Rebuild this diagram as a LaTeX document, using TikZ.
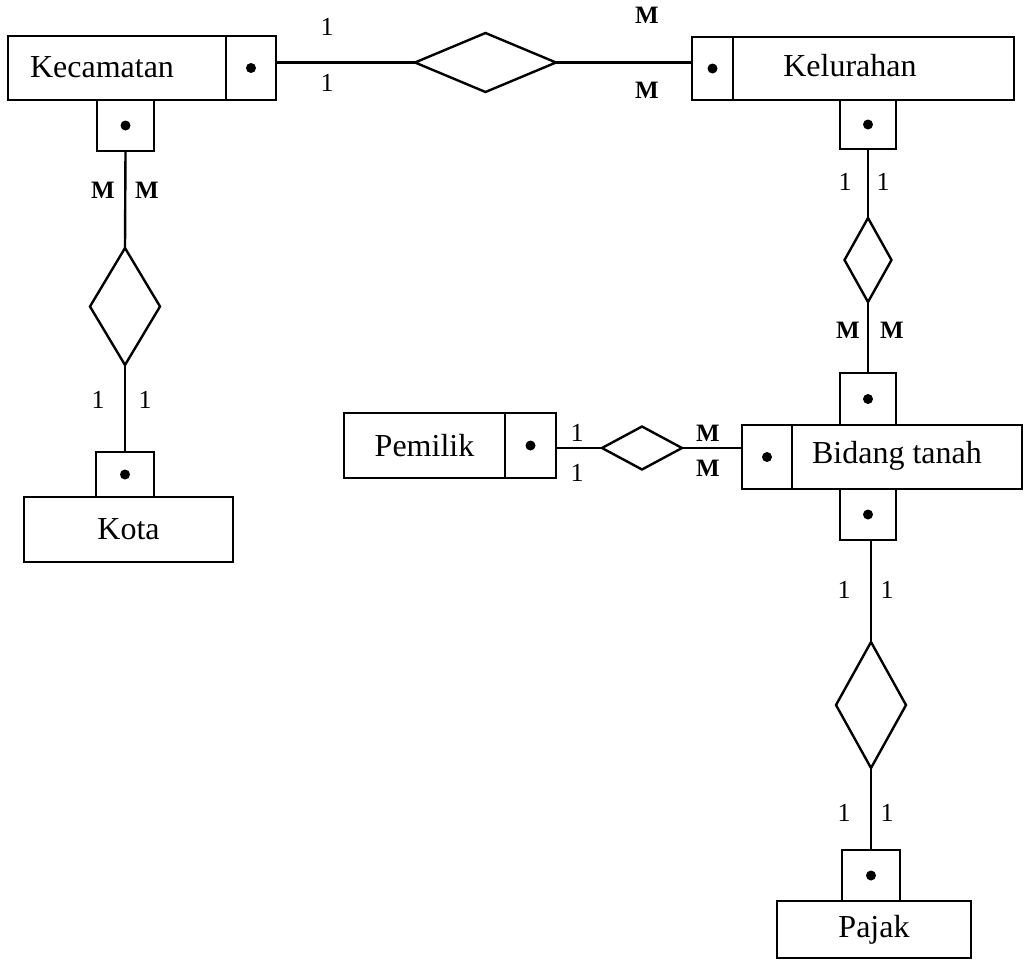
\documentclass[tikz,border=0pt]{standalone}
\usepackage{fontspec}
\setmainfont{Liberation Serif}
\usetikzlibrary{shapes.geometric}
\begin{document}
\begin{tikzpicture}[x=1pt,y=-1pt,
  every node/.style={inner sep=0pt,outer sep=0pt},
  ent/.style={draw,line width=2.4pt,rectangle,font=\fontsize{32}{38}\selectfont},
  keyb/.style={draw,line width=2.4pt,rectangle},
  rel/.style={draw,line width=2.4pt,diamond,inner sep=0pt},
  conn/.style={line width=2.4pt},
  card/.style={font=\fontsize{26}{30}\selectfont},
  cardm/.style={font=\fontsize{25}{30}\selectfont\bfseries},
  dotc/.style={fill=black}]
\useasboundingbox (0,0) rectangle (1025,961);
% Kecamatan
\node[ent,minimum width=218,minimum height=64] (kec) at (117,68) {};
\node[font=\fontsize{32}{38}\selectfont] (kect) at (102,67) {Kecamatan};
\node[keyb,minimum width=50,minimum height=64] (keckr) at (251,68) {};
\node[keyb,minimum width=57,minimum height=51] (keckb) at (125.5,125.5) {};
% Kelurahan
\node[keyb,minimum width=41,minimum height=63] (kelkl) at (712.5,68.5) {};
\node[ent,minimum width=281,minimum height=63] (kel) at (873.5,68.5) {};
\node[font=\fontsize{32}{38}\selectfont] (kelt) at (850,66) {Kelurahan};
\node[keyb,minimum width=56,minimum height=49] (kelkb) at (868,124.5) {};
% Bidang tanah
\node[keyb,minimum width=56,minimum height=52] (bidkt) at (868,399) {};
\node[keyb,minimum width=50,minimum height=64] (bidkl) at (767,457) {};
\node[ent,minimum width=230,minimum height=64] (bid) at (907,457) {};
\node[font=\fontsize{32}{38}\selectfont] (bidt) at (897,456) {Bidang tanah};
\node[keyb,minimum width=56,minimum height=51] (bidkb) at (868,514.5) {};
% Pajak
\node[keyb,minimum width=58,minimum height=51] (pajk) at (871,875.5) {};
\node[ent,minimum width=194,minimum height=57] (paj) at (874,929.5) {Pajak};
% Kota
\node[keyb,minimum width=58,minimum height=45] (kotk) at (125,474.5) {};
\node[ent,minimum width=209,minimum height=65] (kot) at (128.5,529.5) {Kota};
% Pemilik
\node[ent,minimum width=161,minimum height=65] (pem) at (424.5,445.5) {Pemilik};
\node[keyb,minimum width=51,minimum height=65] (pemk) at (530.5,445.5) {};
% dots
\foreach \k in {keckr,keckb,kelkl,kelkb,bidkt,bidkl,bidkb,pajk,kotk,pemk}
  \fill[dotc] (\k.center) circle (5);
% relationships
\node[rel,minimum width=141,minimum height=59] (d1) at (485.5,62.5) {};
\node[rel,minimum width=70,minimum height=117] (d2) at (125,306.5) {};
\node[rel,minimum width=47,minimum height=84] (d3) at (868,260) {};
\node[rel,minimum width=80,minimum height=43] (d4) at (642,448) {};
\node[rel,minimum width=70,minimum height=126] (d5) at (871,705) {};
% connectors
\draw[conn] (d1.west -| keckr.east) -- (d1.west);
\draw[conn] (d1.east) -- (d1.east -| kelkl.west);
\draw[conn] (keckb.south) -- (d2.north);
\draw[conn] (d2.south) -- (kotk.north);
\draw[conn] (kelkb.south) -- (d3.north);
\draw[conn] (d3.south) -- (bidkt.north);
\draw[conn] (d4.west -| pemk.east) -- (d4.west);
\draw[conn] (d4.east) -- (d4.east -| bidkl.west);
\draw[conn] (d5.north |- bidkb.south) -- (d5.north);
\draw[conn] (d5.south) -- (d5.south |- pajk.north);
% cardinalities
\node[card] (c1) at (327,27) {1};
\node[card] (c2) at (327,83) {1};
\node[cardm] (c3) at (647,15) {M};
\node[cardm] (c4) at (647,90) {M};
\node[cardm] (c5) at (103,190) {M};
\node[cardm] (c6) at (147,190) {M};
\node[card] (c7) at (98,400) {1};
\node[card] (c8) at (145,400) {1};
\node[card] (c9) at (845,182) {1};
\node[card] (c10) at (883,182) {1};
\node[cardm] (c11) at (848,330) {M};
\node[cardm] (c12) at (892,330) {M};
\node[card] (c13) at (577,433) {1};
\node[card] (c14) at (577,473) {1};
\node[cardm] (c15) at (708,433) {M};
\node[cardm] (c16) at (708,468) {M};
\node[card] (c17) at (844,590) {1};
\node[card] (c18) at (887,590) {1};
\node[card] (c19) at (844,813) {1};
\node[card] (c20) at (887,813) {1};
\end{tikzpicture}
\end{document}
